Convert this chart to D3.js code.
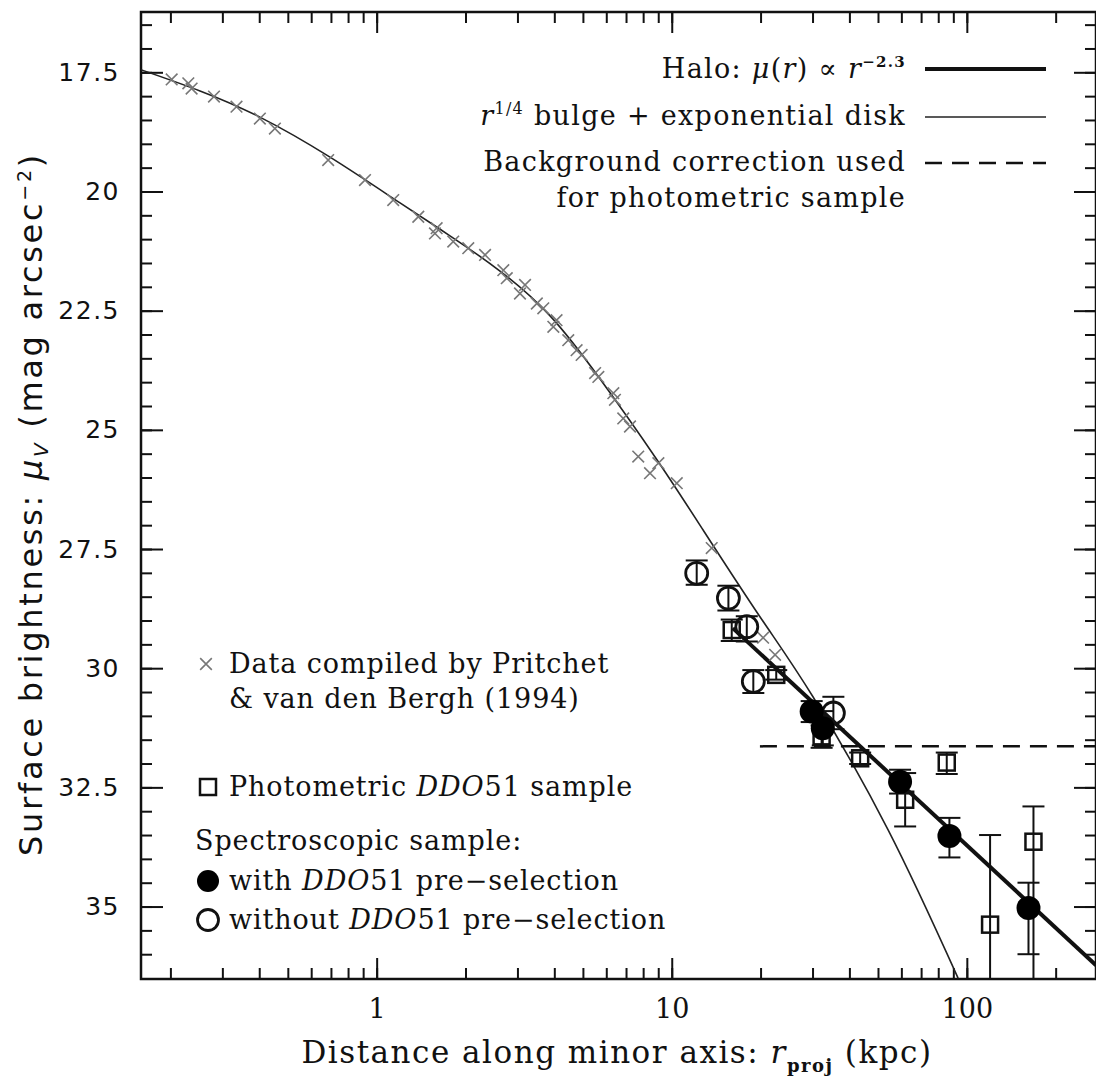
<!DOCTYPE html>
<html>
<head>
<meta charset="utf-8">
<script src="https://cdn.jsdelivr.net/npm/d3@7"></script>
<style>
	body { margin: 0; background: #fff; }
	.serif { font-family: "DejaVu Serif", serif; }
	.sans { font-family: "DejaVu Sans", sans-serif; }
</style>
</head>
<body>
<div id="chart"></div>
<script>
// Pritchet & van den Bergh (1994) points: [r_proj kpc, mu_V]
var pritchetData = [
	[0.202, 17.65], [0.230, 17.73], [0.236, 17.84], [0.281, 18.01], [0.335, 18.22],
	[0.402, 18.47], [0.452, 18.68], [0.685, 19.34], [0.913, 19.76], [1.138, 20.18],
	[1.384, 20.53], [1.597, 20.77], [1.576, 20.88], [1.818, 21.05], [2.044, 21.19],
	[2.33, 21.33], [2.687, 21.65], [2.76, 21.82], [3.183, 21.96], [3.06, 22.14],
	[3.49, 22.35], [3.67, 22.45], [4.07, 22.70], [3.97, 22.84], [4.46, 23.12],
	[4.76, 23.33], [4.95, 23.43], [5.50, 23.81], [5.64, 23.89], [6.34, 24.23],
	[6.42, 24.37], [6.85, 24.76], [7.22, 24.93], [7.70, 25.56], [8.44, 25.91],
	[9.01, 25.70], [10.4, 26.12], [13.66, 27.48], [20.4, 29.36], [22.4, 29.72]
];

// r^1/4 bulge + exponential disk model
var bulgeDiskCurve = [
	[0.158, 17.44], [0.252, 17.89], [0.402, 18.44], [0.695, 19.28], [1.20, 20.24],
	[1.772, 20.93], [2.618, 21.67], [3.87, 22.61], [5.71, 23.93], [8.78, 25.57],
	[12.77, 27.10], [19.9, 28.92], [30.1, 30.60], [54.1, 33.39], [93.4, 36.50]
];

// halo power law, mu ~ r^-2.3 (two ends)
var haloLine = [[16.1, 29.16], [274, 36.23]];

// background level used for the photometric sample
var bgCorrection = [[19.9, 31.64], [274, 31.64]];

// photometric DDO51 sample: r, mu, error low, error high
var photometric = [
	{r: 15.97, mu: 29.20, lo: 28.98, hi: 29.43},
	{r: 22.6, mu: 30.14, lo: 30.04, hi: 30.24},
	{r: 32.2, mu: 31.43, lo: 31.20, hi: 31.67},
	{r: 43.5, mu: 31.89, lo: 31.77, hi: 32.01},
	{r: 61.8, mu: 32.76, lo: 32.20, hi: 33.32},
	{r: 85.5, mu: 31.98, lo: 31.77, hi: 32.22},
	{r: 119.9, mu: 35.38, lo: 33.50, hi: 37.00},
	{r: 168.2, mu: 33.64, lo: 32.90, hi: 37.00}
];

// spectroscopic, with DDO51 pre-selection
var specWith = [
	{r: 29.8, mu: 30.91, lo: 30.69, hi: 31.13},
	{r: 32.5, mu: 31.26, lo: 30.90, hi: 31.62},
	{r: 59.4, mu: 32.38, lo: 32.13, hi: 32.63},
	{r: 87.3, mu: 33.52, lo: 33.14, hi: 33.97},
	{r: 161.8, mu: 35.03, lo: 34.50, hi: 36.00}
];

// spectroscopic, without DDO51 pre-selection
var specWithout = [
	{r: 12.15, mu: 28.01, lo: 27.74, hi: 28.25},
	{r: 15.56, mu: 28.53, lo: 28.27, hi: 28.79},
	{r: 17.96, mu: 29.13, lo: 28.91, hi: 29.44},
	{r: 18.9, mu: 30.28, lo: 30.04, hi: 30.52},
	{r: 35.3, mu: 30.94, lo: 30.60, hi: 31.28}
];

var xMajorTicks = [1, 10, 100];
var yMajorTicks = [17.5, 20, 22.5, 25, 27.5, 30, 32.5, 35];

var width = 1096,
	height = 1077;

var svg = d3.select("#chart")
	.append("svg")
	.attr("width", width)
	.attr("height", height)
	.style("background", "#fff");

var x = d3.scaleLog().domain([0.159, 274]).range([141, 1096]);
var y = d3.scaleLinear().domain([16.235, 36.52]).range([12, 979]);

var yMinorTicks = d3.range(16.5, 36.5, 0.5);

svg.append("defs").append("clipPath")
	.attr("id", "plotclip")
	.append("rect")
	.attr("x", 141).attr("y", 12)
	.attr("width", 955).attr("height", 967);

// axes (ticks pointing inward on all four sides)
function styleAxis(g) {
	g.select(".domain").remove();
	g.selectAll(".tick line").attr("stroke", "#111").attr("stroke-width", 2);
}

svg.append("g")
	.attr("transform", "translate(0,979)")
	.call(d3.axisBottom(x).tickValues(x.ticks()).tickSizeInner(-11).tickFormat(""))
	.call(styleAxis);
svg.append("g")
	.attr("transform", "translate(0,979)")
	.call(d3.axisBottom(x).tickValues(xMajorTicks).tickSizeInner(-21).tickPadding(20).tickFormat(d3.format("d")))
	.call(styleAxis)
	.selectAll("text")
	.attr("class", "serif")
	.style("font-size", "27px")
	.attr("fill", "#111");

svg.append("g")
	.attr("transform", "translate(0,12)")
	.call(d3.axisTop(x).tickValues(x.ticks()).tickSizeInner(-11).tickFormat(""))
	.call(styleAxis);
svg.append("g")
	.attr("transform", "translate(0,12)")
	.call(d3.axisTop(x).tickValues(xMajorTicks).tickSizeInner(-21).tickFormat(""))
	.call(styleAxis);

svg.append("g")
	.attr("transform", "translate(141,0)")
	.call(d3.axisLeft(y).tickValues(yMinorTicks).tickSizeInner(-11).tickFormat(""))
	.call(styleAxis);
svg.append("g")
	.attr("transform", "translate(141,0)")
	.call(d3.axisLeft(y).tickValues(yMajorTicks).tickSizeInner(-22).tickPadding(21).tickFormat(function(d){ return String(d); }))
	.call(styleAxis)
	.selectAll("text")
	.attr("class", "sans")
	.style("font-size", "25px")
	.style("letter-spacing", "1.5px")
	.attr("fill", "#111");

svg.append("g")
	.attr("transform", "translate(1096,0)")
	.call(d3.axisRight(y).tickValues(yMinorTicks).tickSizeInner(-11).tickFormat(""))
	.call(styleAxis);
svg.append("g")
	.attr("transform", "translate(1096,0)")
	.call(d3.axisRight(y).tickValues(yMajorTicks).tickSizeInner(-22).tickFormat(""))
	.call(styleAxis);

svg.append("rect")
	.attr("x", 141).attr("y", 12)
	.attr("width", 955).attr("height", 967)
	.attr("fill", "none")
	.attr("stroke", "#111")
	.attr("stroke-width", 2.5);

var plot = svg.append("g").attr("clip-path", "url(#plotclip)");

var line = d3.line()
	.x(function(d){ return x(d[0]); })
	.y(function(d){ return y(d[1]); });

var curveLine = d3.line()
	.curve(d3.curveNatural)
	.x(function(d){ return x(d[0]); })
	.y(function(d){ return y(d[1]); });

// model curves
plot.append("path")
	.datum(bulgeDiskCurve)
	.attr("d", curveLine)
	.attr("fill", "none")
	.attr("stroke", "#222")
	.attr("stroke-width", 1.6);

plot.append("path")
	.datum(haloLine)
	.attr("d", line)
	.attr("fill", "none")
	.attr("stroke", "#111")
	.attr("stroke-width", 4);

plot.append("path")
	.datum(bgCorrection)
	.attr("d", line)
	.attr("fill", "none")
	.attr("stroke", "#111")
	.attr("stroke-width", 2.5)
	.attr("stroke-dasharray", "17,10");

// Pritchet crosses
var crossSym = d3.symbol().type(d3.symbolX).size(90);
plot.selectAll(".cross")
	.data(pritchetData)
	.enter().append("path")
	.attr("class", "cross")
	.attr("d", crossSym)
	.attr("transform", function(d){ return "translate(" + x(d[0]) + "," + y(d[1]) + ")"; })
	.attr("fill", "none")
	.attr("stroke", "#777")
	.attr("stroke-width", 1.6);

// error bars
function errorBars(data, cls) {
	var g = plot.selectAll("." + cls)
		.data(data)
		.enter().append("g")
		.attr("class", cls)
		.attr("stroke", "#111")
		.attr("stroke-width", 2);
	g.append("line")
		.attr("x1", function(d){ return x(d.r); })
		.attr("x2", function(d){ return x(d.r); })
		.attr("y1", function(d){ return y(d.lo); })
		.attr("y2", function(d){ return y(d.hi); });
	g.append("line")
		.attr("x1", function(d){ return x(d.r) - 11; })
		.attr("x2", function(d){ return x(d.r) + 11; })
		.attr("y1", function(d){ return y(d.lo); })
		.attr("y2", function(d){ return y(d.lo); });
	g.append("line")
		.attr("x1", function(d){ return x(d.r) - 11; })
		.attr("x2", function(d){ return x(d.r) + 11; })
		.attr("y1", function(d){ return y(d.hi); })
		.attr("y2", function(d){ return y(d.hi); });
}
errorBars(photometric, "eb-phot");
errorBars(specWithout, "eb-wo");
errorBars(specWith, "eb-w");

plot.selectAll(".phot")
	.data(photometric)
	.enter().append("rect")
	.attr("class", "phot")
	.attr("x", function(d){ return x(d.r) - 8; })
	.attr("y", function(d){ return y(d.mu) - 8; })
	.attr("width", 16).attr("height", 16)
	.attr("fill", "none")
	.attr("stroke", "#111")
	.attr("stroke-width", 2.5);

plot.selectAll(".wo")
	.data(specWithout)
	.enter().append("circle")
	.attr("class", "wo")
	.attr("cx", function(d){ return x(d.r); })
	.attr("cy", function(d){ return y(d.mu); })
	.attr("r", 11)
	.attr("fill", "none")
	.attr("stroke", "#111")
	.attr("stroke-width", 2.8);

plot.selectAll(".w")
	.data(specWith)
	.enter().append("circle")
	.attr("class", "w")
	.attr("cx", function(d){ return x(d.r); })
	.attr("cy", function(d){ return y(d.mu); })
	.attr("r", 12)
	.attr("fill", "#000");

// axis titles
svg.append("text")
	.attr("class", "serif")
	.attr("x", 617).attr("y", 1063)
	.attr("text-anchor", "middle")
	.style("font-size", "31px")
	.style("letter-spacing", "1.5px")
	.attr("fill", "#111")
	.call(function(t){
		t.append("tspan").text("Distance along minor axis: ");
		t.append("tspan").style("font-style", "italic").text("r");
		t.append("tspan").attr("dy", 9).style("font-size", "18px").style("font-weight", "bold").text("proj");
		t.append("tspan").attr("dy", -9).text(" (kpc)");
	});

svg.append("text")
	.attr("class", "sans")
	.attr("transform", "translate(42,504) rotate(-90)")
	.attr("text-anchor", "middle")
	.style("font-size", "32px")
	.style("letter-spacing", "2.7px")
	.attr("fill", "#111")
	.call(function(t){
		t.append("tspan").text("Surface brightness: ");
		t.append("tspan").style("font-style", "italic").text("μ");
		t.append("tspan").attr("dy", 6).style("font-size", "20px").style("font-style", "italic").text("V");
		t.append("tspan").attr("dy", -6).text(" (mag arcsec");
		t.append("tspan").attr("dy", -11).style("font-size", "19px").text("−2");
		t.append("tspan").attr("dy", 11).text(")");
	});

// top-right legend
var legTR = svg.append("g").attr("class", "serif")
	.style("font-size", "27px").style("letter-spacing", "1.3px").attr("fill", "#111");
legTR.append("text")
	.attr("x", 906).attr("y", 78).attr("text-anchor", "end")
	.call(function(t){
		t.append("tspan").text("Halo: ");
		t.append("tspan").style("font-style", "italic").text("μ");
		t.append("tspan").text("(");
		t.append("tspan").style("font-style", "italic").text("r");
		t.append("tspan").text(") ∝ ");
		t.append("tspan").style("font-style", "italic").text("r");
		t.append("tspan").attr("dy", -11).style("font-size", "15px").style("font-weight", "bold").text("−2.3");
	});
legTR.append("text")
	.attr("x", 906).attr("y", 125).attr("text-anchor", "end")
	.call(function(t){
		t.append("tspan").style("font-style", "italic").text("r");
		t.append("tspan").attr("dy", -11).style("font-size", "16px").text("1/4");
		t.append("tspan").attr("dy", 11).text(" bulge + exponential disk");
	});
legTR.append("text").attr("x", 906).attr("y", 171).attr("text-anchor", "end").text("Background correction used");
legTR.append("text").attr("x", 906).attr("y", 207).attr("text-anchor", "end").text("for photometric sample");

legTR.append("line").attr("x1", 925).attr("x2", 1046).attr("y1", 69).attr("y2", 69)
	.attr("stroke", "#111").attr("stroke-width", 4);
legTR.append("line").attr("x1", 925).attr("x2", 1046).attr("y1", 117).attr("y2", 117)
	.attr("stroke", "#222").attr("stroke-width", 1.6);
legTR.append("line").attr("x1", 925).attr("x2", 1046).attr("y1", 163).attr("y2", 163)
	.attr("stroke", "#111").attr("stroke-width", 2.5).attr("stroke-dasharray", "17,10");

// bottom-left legend
var legBL = svg.append("g").attr("class", "serif")
	.style("font-size", "27px").style("letter-spacing", "0.9px").attr("fill", "#111");
legBL.append("path")
	.attr("d", crossSym)
	.attr("transform", "translate(206,664)")
	.attr("fill", "none").attr("stroke", "#777").attr("stroke-width", 1.6);
legBL.append("text").attr("x", 229).attr("y", 673).text("Data compiled by Pritchet");
legBL.append("text").attr("x", 229).attr("y", 708).text("& van den Bergh (1994)");

legBL.append("rect").attr("x", 200).attr("y", 779).attr("width", 16).attr("height", 16)
	.attr("fill", "none").attr("stroke", "#111").attr("stroke-width", 2.5);
legBL.append("text").attr("x", 229).attr("y", 796)
	.call(function(t){
		t.append("tspan").text("Photometric ");
		t.append("tspan").style("font-style", "italic").text("DDO");
		t.append("tspan").text("51 sample");
	});

legBL.append("text").attr("x", 195).attr("y", 850).text("Spectroscopic sample:");
legBL.append("circle").attr("cx", 208).attr("cy", 881).attr("r", 11).attr("fill", "#000");
legBL.append("text").attr("x", 229).attr("y", 890)
	.call(function(t){
		t.append("tspan").text("with ");
		t.append("tspan").style("font-style", "italic").text("DDO");
		t.append("tspan").text("51 pre−selection");
	});
legBL.append("circle").attr("cx", 208).attr("cy", 920).attr("r", 10.5)
	.attr("fill", "none").attr("stroke", "#111").attr("stroke-width", 2.8);
legBL.append("text").attr("x", 229).attr("y", 929)
	.call(function(t){
		t.append("tspan").text("without ");
		t.append("tspan").style("font-style", "italic").text("DDO");
		t.append("tspan").text("51 pre−selection");
	});
</script>
</body>
</html>
